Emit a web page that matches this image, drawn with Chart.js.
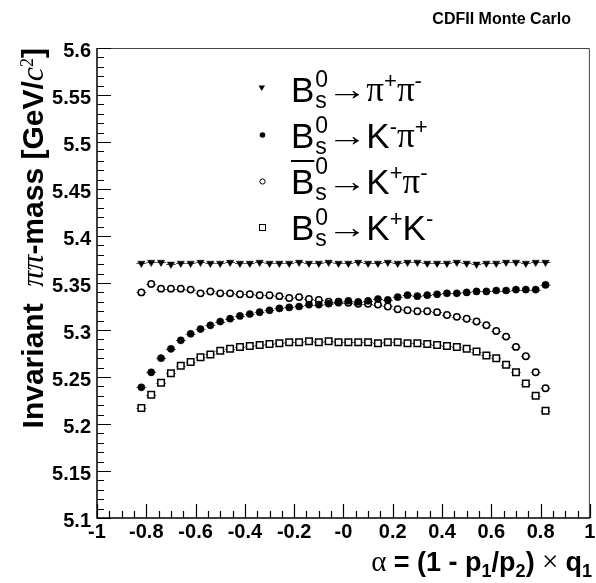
<!DOCTYPE html>
<html>
<head>
<meta charset="utf-8">
<script src="https://cdn.jsdelivr.net/npm/chart.js@4"></script>
<style>
  html, body { margin: 0; padding: 0; background: #fff; }
  #wrap { position: relative; width: 596px; height: 583px; overflow: hidden; font-family: "Liberation Sans", Arial, sans-serif; color: #000; }
  #c { position: absolute; left: 0; top: 0; }
  .top { position: absolute; right: 25px; top: 10px; font: bold 16px "Liberation Sans"; }
  .xt { position: absolute; right: 4px; top: 545px; font: bold 27px "Liberation Sans"; white-space: nowrap; }
  .xt .sym { font-weight: normal; font-family: "Liberation Serif"; font-size: 29px; }
  .xt sub { font-size: 18px; vertical-align: -6px; }
  .yt { position: absolute; left: 11px; top: 498px; width: 450px; height: 33px; transform-origin: 0 0; transform: rotate(-90deg);
        text-align: right; font: bold 30px "Liberation Sans"; white-space: nowrap; line-height: 33px; }
  .yt .it { font-family: "Liberation Serif"; font-style: italic; font-weight: normal; font-size: 32px; }
  .yt sup { font-size: 18px; font-weight: normal; font-family: "Liberation Serif"; vertical-align: 10px; }
  .row { position: absolute; left: 291px; height: 36px; font-size: 35px; line-height: 36px; white-space: nowrap; }
  .row span { display: inline-block; vertical-align: top; }
  .ss { position: relative; width: 13px; height: 36px; }
  .ss .u, .ss .d { position: absolute; left: 1px; font-size: 23px; line-height: 23px; }
  .ss .u { top: -4px; }
  .ss .d { top: 17px; }
  .arr { font-family: "Liberation Sans"; font-size: 31px; margin: 0 3px 0 5px; transform: scaleX(1.3); }
  .pi { font-family: "Liberation Serif"; }
  .sp { font-size: 22px; line-height: 23px; margin-top: -3px; }
  .ob { text-decoration: overline; text-decoration-thickness: 2px; }
  #legm { position: absolute; left: 0; top: 0; }
</style>
</head>
<body>
<div id="wrap">
  <canvas id="c" width="596" height="583"></canvas>
  <div class="top">CDFII Monte Carlo</div>
  <div class="yt">Invariant&nbsp;&nbsp;<span class="it">ππ</span>-mass [GeV/<span class="it">c</span><sup>2</sup>]</div>
  <div class="xt"><span class="sym">α</span> = (1 - p<sub>1</sub>/p<sub>2</sub>)<span class="sym"> × </span>q<sub>1</sub></div>

  <svg id="legm" width="596" height="583">
    <polygon points="258.5,85.5 265,85.5 261.75,91" fill="#000"/>
    <circle cx="262.5" cy="135" r="2.8" fill="#000"/>
    <circle cx="262.5" cy="181.5" r="2.6" fill="#fff" stroke="#000" stroke-width="1"/>
    <rect x="259.5" y="224.5" width="6" height="6" fill="#fff" stroke="#000" stroke-width="1"/>
  </svg>

  <div class="row" style="top:72px"><span>B</span><span class="ss"><span class="u">0</span><span class="d">s</span></span><span class="arr">→</span><span class="pi">π</span><span class="sp">+</span><span class="pi">π</span><span class="sp">-</span></div>
  <div class="row" style="top:118px"><span>B</span><span class="ss"><span class="u">0</span><span class="d">s</span></span><span class="arr">→</span><span>K</span><span class="sp">-</span><span class="pi">π</span><span class="sp">+</span></div>
  <div class="row" style="top:164px"><span class="ob">B</span><span class="ss"><span class="u" style="top:-9px">0</span><span class="d">s</span></span><span class="arr">→</span><span>K</span><span class="sp">+</span><span class="pi">π</span><span class="sp">-</span></div>
  <div class="row" style="top:210px"><span>B</span><span class="ss"><span class="u">0</span><span class="d">s</span></span><span class="arr">→</span><span>K</span><span class="sp">+</span><span>K</span><span class="sp">-</span></div>
</div>

<script>
// ── Data ──────────────────────────────────────────────────────────────────────
const alpha = [-0.82, -0.78, -0.74, -0.70, -0.66, -0.62, -0.58, -0.54, -0.50, -0.46, -0.42,
  -0.38, -0.34, -0.30, -0.26, -0.22, -0.18, -0.14, -0.10, -0.06, -0.02, 0.02, 0.06, 0.10,
  0.14, 0.18, 0.22, 0.26, 0.30, 0.34, 0.38, 0.42, 0.46, 0.50, 0.54, 0.58, 0.62, 0.66, 0.70,
  0.74, 0.78, 0.82];

const massPiPi = [5.371, 5.372, 5.372, 5.370, 5.371, 5.371, 5.372, 5.371, 5.371, 5.372, 5.371,
  5.371, 5.372, 5.371, 5.371, 5.371, 5.372, 5.371, 5.371, 5.372, 5.371, 5.371, 5.372, 5.371,
  5.371, 5.372, 5.371, 5.372, 5.372, 5.371, 5.371, 5.371, 5.372, 5.371, 5.370, 5.371, 5.371,
  5.372, 5.372, 5.371, 5.372, 5.372];

const massKmPip = [5.239, 5.255, 5.270, 5.280, 5.289, 5.296, 5.301, 5.305, 5.309, 5.312, 5.315,
  5.317, 5.319, 5.321, 5.323, 5.324, 5.325, 5.327, 5.327, 5.328, 5.329, 5.331, 5.330, 5.331,
  5.333, 5.332, 5.335, 5.337, 5.336, 5.337, 5.338, 5.339, 5.339, 5.340, 5.341, 5.341, 5.342,
  5.342, 5.343, 5.343, 5.343, 5.348];

const massKpPim = [5.340, 5.349, 5.344, 5.344, 5.344, 5.343, 5.339, 5.341, 5.339, 5.339, 5.338,
  5.338, 5.337, 5.337, 5.336, 5.334, 5.335, 5.333, 5.332, 5.330, 5.330, 5.329, 5.328, 5.328,
  5.327, 5.325, 5.322, 5.321, 5.320, 5.320, 5.319, 5.316, 5.314, 5.312, 5.309, 5.305, 5.299,
  5.293, 5.282, 5.272, 5.255, 5.238];

const massKK = [5.217, 5.231, 5.244, 5.254, 5.262, 5.266, 5.271, 5.274, 5.278, 5.280, 5.282,
  5.283, 5.284, 5.285, 5.286, 5.287, 5.287, 5.288, 5.287, 5.288, 5.287, 5.287, 5.287, 5.287,
  5.286, 5.287, 5.287, 5.286, 5.286, 5.285, 5.284, 5.283, 5.282, 5.280, 5.277, 5.273, 5.270,
  5.263, 5.255, 5.243, 5.230, 5.214];

const xTickLabels = ["-1", "-0.8", "-0.6", "-0.4", "-0.2", "-0", "0.2", "0.4", "0.6", "0.8", "1"];
const yTickLabels = ["5.1", "5.15", "5.2", "5.25", "5.3", "5.35", "5.4", "5.45", "5.5", "5.55", "5.6"];

const binHalfWidth = 0.02;

// ── Helpers ───────────────────────────────────────────────────────────────────
const pts = ys => alpha.map((x, i) => ({ x, y: ys[i] }));

// horizontal bin-width bars under the markers
const errBars = {
  id: "errBars",
  beforeDatasetsDraw(chart) {
    const { ctx, scales: { x, y } } = chart;
    ctx.save();
    ctx.strokeStyle = "#555";
    ctx.lineWidth = 1;
    chart.data.datasets.forEach(ds => {
      ds.data.forEach(p => {
        const py = Math.round(y.getPixelForValue(p.y)) + 0.5;
        ctx.beginPath();
        ctx.moveTo(x.getPixelForValue(p.x - binHalfWidth), py);
        ctx.lineTo(x.getPixelForValue(p.x + binHalfWidth), py);
        ctx.stroke();
      });
    });
    ctx.restore();
  }
};

// ROOT-style frame with ticks pointing inwards
const frame = {
  id: "frame",
  afterDraw(chart) {
    const { ctx, chartArea: a, scales: { x, y } } = chart;
    ctx.save();
    ctx.strokeStyle = "#444";
    ctx.lineWidth = 1;
    ctx.beginPath();
    ctx.moveTo(a.left, a.top + 0.5); ctx.lineTo(a.right - 0.5, a.top + 0.5);
    ctx.lineTo(a.right - 0.5, a.bottom);
    ctx.stroke();

    ctx.strokeStyle = "#000";
    ctx.lineWidth = 1.5;
    ctx.beginPath();
    ctx.moveTo(a.left, a.top); ctx.lineTo(a.left, a.bottom); ctx.lineTo(a.right, a.bottom);
    ctx.stroke();

    ctx.lineWidth = 1.2;
    ctx.beginPath();
    for (let k = 0; k <= 50; k++) {
      const v = 5.1 + k * 0.01;
      const py = Math.round(y.getPixelForValue(v)) + 0.5;
      const len = k % 5 === 0 ? 14 : 7;
      ctx.moveTo(a.left, py); ctx.lineTo(a.left + len, py);
    }
    for (let k = 0; k <= 40; k++) {
      const v = -1 + k * 0.05;
      const px = Math.round(x.getPixelForValue(v)) + 0.5;
      const len = k % 4 === 0 ? 14 : 7;
      ctx.moveTo(px, a.bottom); ctx.lineTo(px, a.bottom - len);
    }
    ctx.stroke();
    ctx.restore();
  }
};

const tickFont = { family: "Liberation Sans", size: 20, weight: "bold" };

// ── Chart ─────────────────────────────────────────────────────────────────────
new Chart(document.getElementById("c"), {
  type: "scatter",
  data: {
    datasets: [
      { label: "pipi", data: pts(massPiPi), pointStyle: "triangle", rotation: 180, radius: 4.2,
        backgroundColor: "#000", borderColor: "#000", borderWidth: 0.5 },
      { label: "Kpi", data: pts(massKmPip), pointStyle: "circle", radius: 3.6,
        backgroundColor: "#000", borderColor: "#000", borderWidth: 0.5 },
      { label: "piK", data: pts(massKpPim), pointStyle: "circle", radius: 3.2,
        backgroundColor: "#fff", borderColor: "#000", borderWidth: 1.5 },
      { label: "KK", data: pts(massKK), pointStyle: "rect", radius: 4.6,
        backgroundColor: "#fff", borderColor: "#000", borderWidth: 1.5 },
    ],
  },
  options: {
    responsive: false,
    animation: false,
    devicePixelRatio: 1,
    events: [],
    layout: { padding: { top: 48, right: 4, left: 0, bottom: 0 } },
    plugins: { legend: { display: false }, tooltip: { enabled: false } },
    scales: {
      x: {
        type: "linear", min: -1, max: 1,
        grid: { display: false, drawTicks: false },
        border: { display: false },
        ticks: { stepSize: 0.2, autoSkip: false, maxRotation: 0, padding: 2, color: "#000", font: tickFont,
          callback: (v, i) => xTickLabels[i] },
        afterFit(s) { s.height = 65; s.paddingLeft = 0; s.paddingRight = 0; },
      },
      y: {
        type: "linear", min: 5.1, max: 5.6,
        grid: { display: false, drawTicks: false },
        border: { display: false },
        ticks: { stepSize: 0.05, autoSkip: false, padding: 6, labelOffset: 3, color: "#000", font: tickFont,
          callback: (v, i) => yTickLabels[i] },
        afterFit(s) { s.width = 97; s.paddingTop = 0; s.paddingBottom = 0; },
      },
    },
  },
  plugins: [errBars, frame],
});
</script>
</body>
</html>
